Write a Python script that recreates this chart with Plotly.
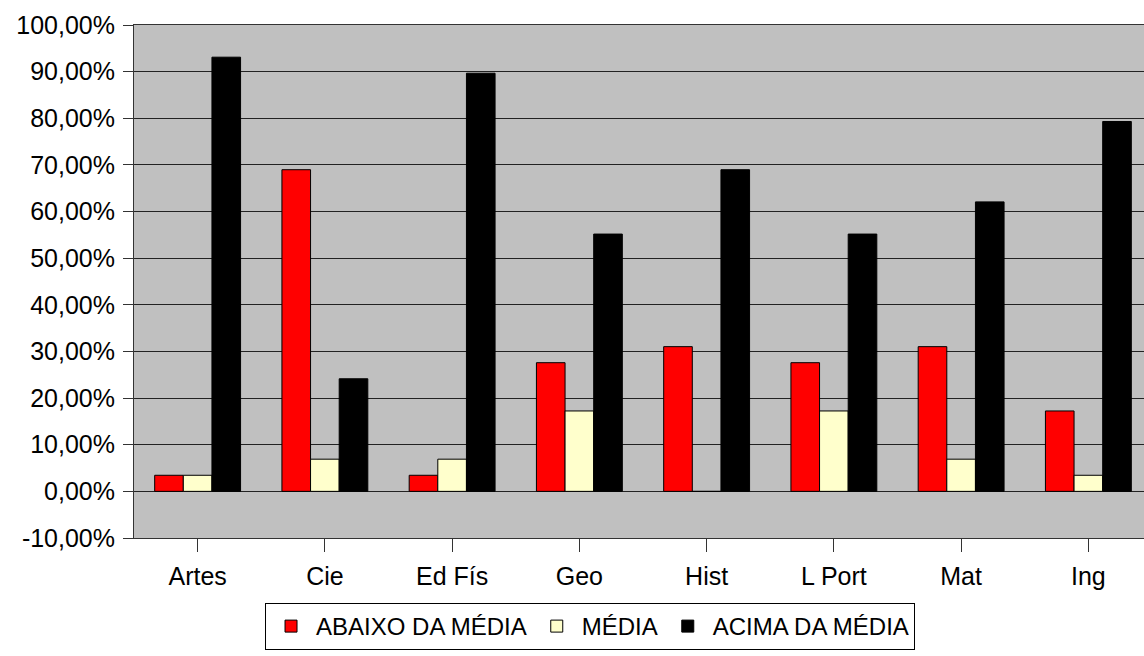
import plotly.graph_objects as go

categories = ["Artes", "Cie", "Ed Fís", "Geo", "Hist", "L Port", "Mat", "Ing"]
abaixo = [0.0345, 0.6897, 0.0345, 0.2759, 0.3103, 0.2759, 0.3103, 0.1724]
media = [0.0345, 0.0690, 0.0690, 0.1724, 0.0, 0.1724, 0.0690, 0.0345]
acima = [0.9310, 0.2414, 0.8966, 0.5517, 0.6897, 0.5517, 0.6207, 0.7931]
series_names = ["ABAIXO DA MÉDIA", "MÉDIA", "ACIMA DA MÉDIA"]
series_colors = ["#ff0000", "#ffffcc", "#000000"]
y_tickvals = [-0.1, 0.0, 0.1, 0.2, 0.3, 0.4, 0.5, 0.6, 0.7, 0.8, 0.9, 1.0]
y_ticktext = ["-10,00%", "0,00%", "10,00%", "20,00%", "30,00%", "40,00%",
              "50,00%", "60,00%", "70,00%", "80,00%", "90,00%", "100,00%"]

fig = go.Figure()
for name, vals, col in zip(series_names, [abaixo, media, acima], series_colors):
    fig.add_trace(go.Bar(
        x=categories, y=vals, name=name,
        marker=dict(color=col, line=dict(color="#000000", width=1)),
    ))

fig.update_layout(
    width=1152, height=656,
    margin=dict(l=134, r=0, t=25, b=118),
    paper_bgcolor="white",
    plot_bgcolor="#c0c0c0",
    barmode="group",
    bargap=0.325,
    bargroupgap=0,
    font=dict(family="Liberation Sans, Arial, sans-serif", size=25, color="black"),
    showlegend=True,
    legend=dict(
        orientation="h",
        x=0.1287, xanchor="left",
        y=-0.1267, yanchor="top",
        bordercolor="black", borderwidth=1,
        bgcolor="white",
        font=dict(size=24),
        itemwidth=40,
        traceorder="normal",
    ),
)
fig.update_yaxes(
    range=[-0.1, 1.0],
    tickvals=y_tickvals, ticktext=y_ticktext,
    showgrid=True, gridcolor="#222222", gridwidth=1,
    zeroline=True, zerolinecolor="#222222", zerolinewidth=1,
    showline=True, linecolor="#333333", linewidth=1, mirror=True,
    ticks="outside", ticklen=10, tickcolor="#333333",
    ticklabelstandoff=3,
)
fig.update_xaxes(
    ticks="outside", ticklen=13, tickcolor="#333333",
    showline=True, linecolor="#333333", linewidth=1, mirror=True,
    showgrid=False,
    ticklabelstandoff=3,
)

fig.write_html(
    "out.html",
    config={"displayModeBar": False},
    post_script="document.body.style.margin='0';document.body.style.overflow='hidden';",
)
